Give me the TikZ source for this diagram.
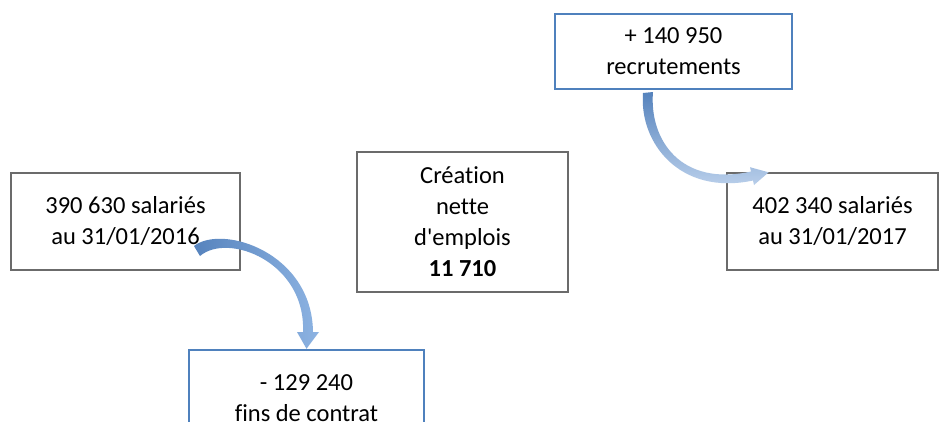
\documentclass[tikz,border=0pt]{standalone}
\usepackage{fontspec}
\setmainfont[Ligatures={TeX,NoCommon}]{Carlito}
\definecolor{boxgray}{HTML}{6B6B6B}
\definecolor{boxblue}{HTML}{4F81BD}
\definecolor{arrowdark}{HTML}{5683BD}
\definecolor{arrowlight}{HTML}{E8EFF8}
\definecolor{arrowmid}{HTML}{8DB3E2}

\begin{document}
\begin{tikzpicture}[x=1pt, y=-1pt,
    graybox/.style={draw=boxgray, line width=2pt, rectangle, align=center, font=\fontsize{24.5}{31}\selectfont},
    bluebox/.style={draw=boxblue, line width=2.5pt, rectangle, align=center, font=\fontsize{24.5}{31}\selectfont}]
  \clip (0,0) rectangle (950,421);
  \fill[white] (0,0) rectangle (950,421);

  \node[graybox, minimum width=229pt, minimum height=97pt] (start) at (125.5, 221.5) {390 630 salariés\\au 31/01/2016};
  \node[bluebox, minimum width=235pt, minimum height=97pt] (exits) at (306.5, 398.5) {- 129 240\\fins de contrat};
  \node[graybox, minimum width=211pt, minimum height=140pt] (net) at (462.5, 222) {Création\\nette\\d\textquotesingle emplois\\\textbf{11 710}};
  \node[bluebox, minimum width=237pt, minimum height=75pt] (hires) at (673.5, 51.5) {+ 140 950\\recrutements};
  \node[graybox, minimum width=211pt, minimum height=97pt] (finish) at (832.5, 221.5) {402 340 salariés\\au 31/01/2017};

  % curved arrows
  \shade[left color=arrowdark, middle color=arrowlight, right color=arrowmid]
    (194,246) .. controls (222,224) and (312,252) .. (313,332)
    -- (319,332) -- (exits.north) -- (297,332) -- (303,332)
    .. controls (306,262) and (228,232) .. (200,256) -- cycle;
  \shade[top color=arrowdark, bottom color=arrowlight!60!arrowmid]
    (643,93) .. controls (639,143) and (680,196) .. (753,180.5)
    -- (754,185) -- (768.6,172.3) -- (750,167.2) -- (751,171.5)
    .. controls (681,187) and (649,140) .. (653,92) -- cycle;
\end{tikzpicture}
\end{document}
